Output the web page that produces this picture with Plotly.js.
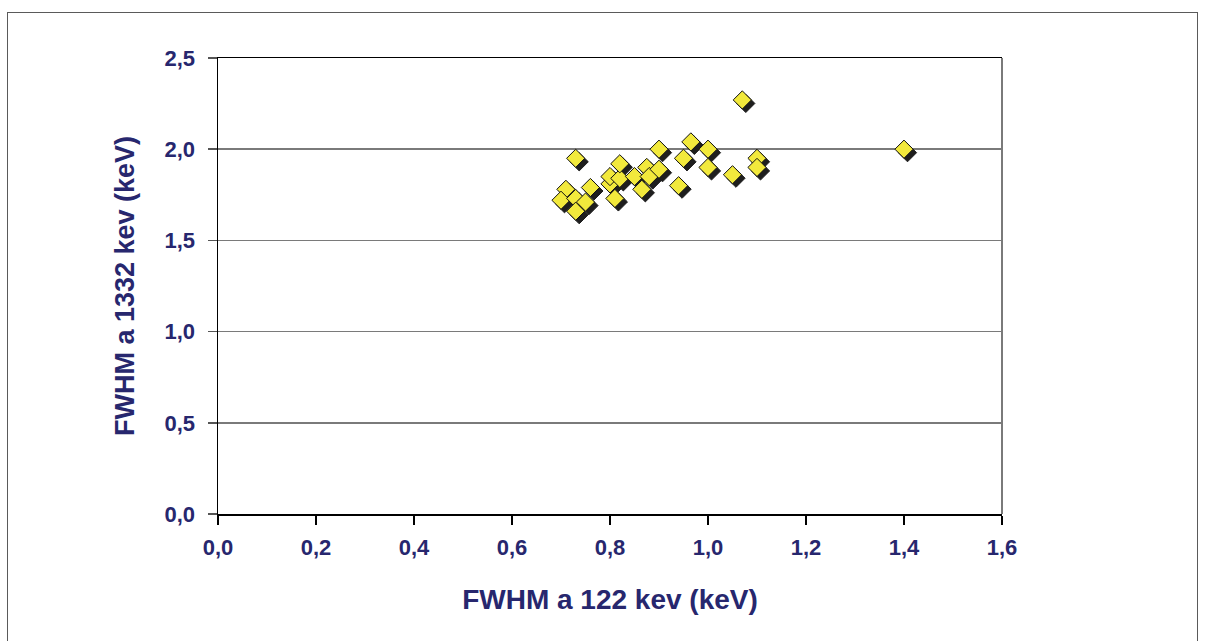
<!DOCTYPE html>
<html>
<head>
<meta charset="utf-8">
<script src="https://cdn.plot.ly/plotly-3.0.1.min.js"></script>
<style>
  html, body { margin: 0; padding: 0; background: #ffffff; }
  #wrap { position: relative; width: 1206px; height: 641px; overflow: hidden; }
  #chart { position: absolute; left: 0; top: 0; width: 1206px; height: 641px; }
  #frame { position: absolute; left: 7px; top: 12px; width: 1189px; height: 700px;
           border: 1.5px solid #5a5a5a; pointer-events: none; }
</style>
</head>
<body>
<div id="wrap">
  <div id="chart"></div>
  <div id="frame"></div>
</div>
<script>
// FWHM at 122 keV (x) and FWHM at 1332 keV (y)
const fwhm122 = [0.73, 0.71, 0.70, 0.73, 0.73, 0.75, 0.76, 0.80, 0.80, 0.82, 0.82, 0.81,
                 0.85, 0.865, 0.875, 0.88, 0.90, 0.90, 0.95, 0.94, 0.965, 1.00, 1.00,
                 1.05, 1.07, 1.10, 1.10, 1.40];
const fwhm1332 = [1.95, 1.78, 1.72, 1.73, 1.66, 1.71, 1.79, 1.81, 1.85, 1.84, 1.92, 1.73,
                  1.85, 1.78, 1.90, 1.85, 1.89, 2.00, 1.95, 1.80, 2.04, 2.00, 1.90,
                  1.86, 2.27, 1.95, 1.90, 2.00];
const xTicks = [0, 0.2, 0.4, 0.6, 0.8, 1.0, 1.2, 1.4, 1.6];
const xTickText = ["0,0", "0,2", "0,4", "0,6", "0,8", "1,0", "1,2", "1,4", "1,6"];
const yTicks = [0, 0.5, 1.0, 1.5, 2.0, 2.5];
const yTickText = ["0,0", "0,5", "1,0", "1,5", "2,0", "2,5"];

const navy = "#27276e";
const font = "Liberation Sans, Arial, sans-serif";
const bold = arr => arr.map(t => "<b>" + t + "</b>");

const shadow = {
  x: fwhm122, y: fwhm1332, type: "scatter", mode: "markers",
  marker: { symbol: "diamond", size: 14, color: "#1e1e1e", line: { color: "#1e1e1e", width: 1 } },
  hoverinfo: "skip", showlegend: false
};
const pts = {
  x: fwhm122, y: fwhm1332, type: "scatter", mode: "markers",
  marker: { symbol: "diamond", size: 14, color: "#f2e93c", line: { color: "#111111", width: 1 } },
  showlegend: false
};

const layout = {
  width: 1206, height: 641,
  margin: { l: 218, r: 204, t: 58, b: 127 },
  paper_bgcolor: "#ffffff", plot_bgcolor: "#ffffff",
  showlegend: false,
  xaxis: {
    range: [0, 1.6], tickvals: xTicks, ticktext: bold(xTickText),
    showgrid: false, zeroline: false,
    showline: true, linecolor: "#000000", linewidth: 1.5, mirror: true,
    ticks: "outside", ticklen: 9, tickwidth: 1.5, tickcolor: "#000000",
    ticklabelstandoff: 4,
    tickfont: { family: font, size: 22, color: navy },
    title: { text: "<b>FWHM a 122 kev (keV)</b>", standoff: 30,
             font: { family: font, size: 28, color: navy } }
  },
  yaxis: {
    range: [0, 2.5], tickvals: yTicks, ticktext: bold(yTickText),
    showgrid: true, gridcolor: "#7a7a7a", gridwidth: 1.5, zeroline: false,
    showline: true, linecolor: "#000000", linewidth: 1.5, mirror: false,
    ticks: "outside", ticklen: 9, tickwidth: 1.5, tickcolor: "#555555",
    ticklabelstandoff: 8,
    tickfont: { family: font, size: 22, color: navy },
    title: { text: "<b>FWHM a 1332 kev (keV)</b>", standoff: 22,
             font: { family: font, size: 27, color: navy } }
  },
  shapes: [
    { type: "line", xref: "paper", yref: "paper", x0: 1, x1: 1, y0: 0, y1: 1,
      line: { color: "#7a7a7a", width: 2 } }
  ]
};

Plotly.newPlot("chart", [shadow, pts], layout, { staticPlot: true }).then(function () {
  const traces = document.querySelectorAll("#chart .scatterlayer .trace");
  if (traces.length > 0) {
    traces[0].setAttribute("transform", "translate(3.5,3.5)");
  }
});
</script>
</body>
</html>
